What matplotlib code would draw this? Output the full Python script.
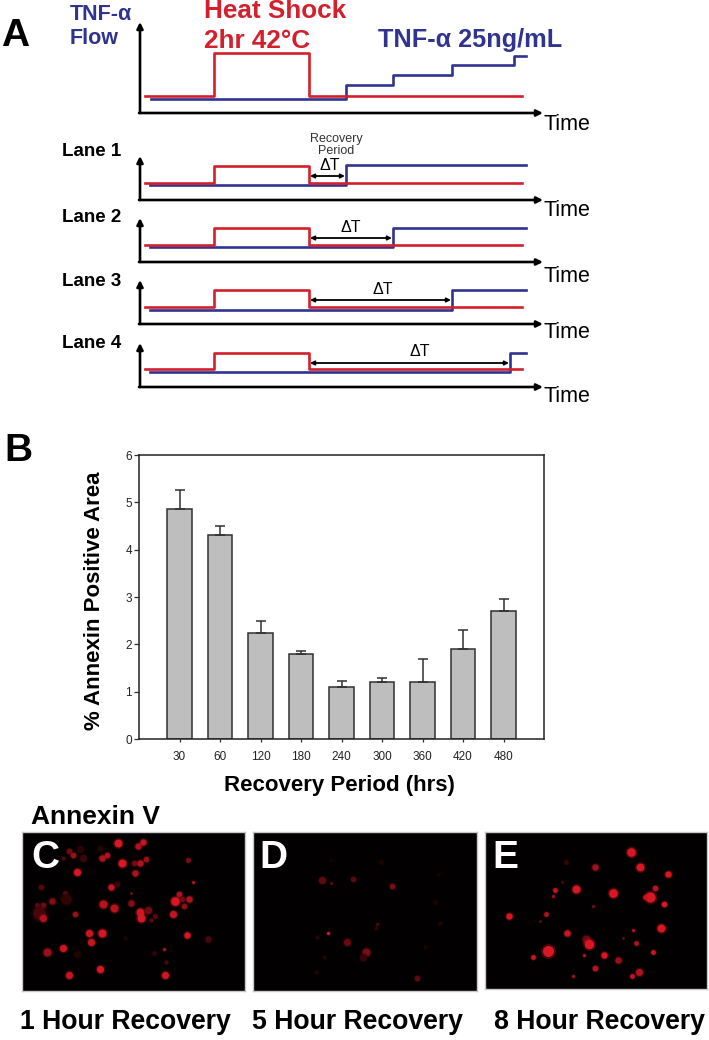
import matplotlib
matplotlib.use('Agg')
import matplotlib.pyplot as plt

plt.rcParams['font.family'] = ['Liberation Sans', 'DejaVu Sans']

W, H = 709, 1040
RED = '#d4202c'
BLUE = '#30338f'

# panel A, in picture pixels
red_x = [145, 214, 309, 522]
main_red = [96, 53, 96, 96]
main_blue_x = [151, 346, 393, 452, 514, 526]
main_blue = [99, 85, 75, 65, 56, 56]

lane_names = ['Lane 1', 'Lane 2', 'Lane 3', 'Lane 4']
lane_base = [200, 262, 324, 387]
lane_top = [156, 218, 280, 343]
lane_red_low = [183, 245, 307, 369]
lane_red_high = [166, 228, 290, 353]
lane_blue_low = [185, 247, 310, 372]
lane_blue_high = [165, 228, 290, 353]
lane_tnf_on = [346, 393, 452, 510]
lane_arrow_y = [176, 238, 300, 363]
lane_dt_x = [330, 351, 383, 420]
lane_dt_y = [165, 228, 290, 352]
lane_label_y = [152, 217, 282, 344]
time_y = [211, 276, 333, 397]

# panel B
periods = ['30', '60', '120', '180', '240', '300', '360', '420', '480']
annexin = [4.85, 4.3, 2.25, 1.8, 1.1, 1.2, 1.2, 1.9, 2.7]
annexin_err = [0.4, 0.2, 0.25, 0.05, 0.13, 0.08, 0.5, 0.4, 0.25]

# micrograph spots, x y radius brightness
spots_c = [(354, 53, 10, 1), (428, 50, 8, .9), (414, 62, 8, .8), (208, 78, 7, .5), (220, 90, 7, .7),
           (190, 98, 5, .35), (250, 97, 9, .25), (240, 72, 9, .15), (300, 68, 8, .12), (306, 97, 8, .8),
           (320, 90, 7, .8), (367, 113, 10, 1), (402, 114, 7, .5), (420, 114, 8, .8), (438, 100, 7, .7),
           (563, 105, 6, .6), (404, 143, 8, .8), (232, 141, 9, 1), (333, 185, 8, .9), (352, 175, 7, .25),
           (579, 170, 4, .8), (123, 184, 7, .35), (196, 203, 6, .4), (197, 222, 13, .2), (155, 227, 8, .6),
           (128, 240, 7, .5), (110, 240, 6, .4), (118, 265, 16, .3), (128, 278, 9, .8), (226, 268, 7, .7),
           (310, 235, 10, .85), (341, 249, 10, .85), (392, 232, 8, .6), (394, 204, 3, .6), (419, 261, 10, .95),
           (445, 255, 9, .5), (422, 279, 10, 1), (465, 272, 6, .4), (452, 284, 5, .4), (518, 266, 9, .9),
           (525, 227, 11, 1), (538, 206, 7, .8), (547, 221, 7, .5), (568, 220, 8, .8), (551, 242, 7, .65),
           (267, 323, 9, .95), (305, 325, 10, 1), (272, 350, 9, .9), (561, 331, 8, 1), (625, 343, 8, .3),
           (188, 370, 9, .95), (141, 382, 10, .7), (230, 388, 9, .12), (300, 431, 9, 1), (208, 451, 9, .9),
           (494, 450, 9, .95), (493, 373, 4, .8), (462, 385, 6, .2), (499, 412, 5, .3), (375, 340, 5, .12)]
spots_d = [(233, 164, 9, .42), (258, 173, 4, .38), (326, 162, 7, .38), (443, 182, 7, .55), (410, 111, 6, .1),
           (258, 104, 3, .14), (251, 324, 4, 1), (216, 335, 5, .18), (307, 350, 9, .45), (397, 298, 4, .34),
           (394, 310, 5, .18), (363, 381, 10, .55), (354, 396, 9, .22), (237, 397, 5, .14), (215, 441, 5, .14),
           (517, 459, 7, .42), (571, 230, 6, .1), (587, 294, 5, .14), (540, 366, 5, .08), (580, 146, 5, .07)]
spots_e = [(454, 81, 11, 1), (482, 124, 10, 1), (345, 126, 8, .75), (567, 146, 8, 1), (259, 111, 6, .2),
           (526, 187, 7, .85), (226, 193, 6, .9), (288, 190, 10, 1), (400, 204, 11, 1), (511, 215, 13, 1),
           (497, 214, 6, .9), (553, 235, 7, 1), (219, 211, 4, .7), (339, 242, 4, .5), (86, 272, 8, 1),
           (199, 268, 6, .8), (545, 309, 10, 1), (459, 314, 4, .8), (262, 325, 8, .95), (319, 342, 10, .45),
           (327, 358, 12, 1), (468, 355, 6, .8), (204, 377, 14, 1), (520, 381, 6, .95), (373, 390, 8, 1),
           (312, 391, 4, .8), (159, 397, 6, .95), (415, 406, 8, .7), (346, 430, 7, .85), (478, 441, 9, .8),
           (456, 452, 6, .9), (281, 452, 4, .75), (431, 340, 3, .5), (180, 287, 3, .5), (247, 171, 3, .4)]

panel_boxes = [(22, 832, 245, 991), (253, 832, 477, 991), (485, 832, 707, 989)]
panel_crops = [(66, 735, 498, 20), (25, 697, 498, 20), (15, 683, 492, 20)]
panel_spots = [spots_c, spots_d, spots_e]
panel_letters = ['C', 'D', 'E']
panel_letter_x = [31, 259, 492]
captions = ['1 Hour Recovery', '5 Hour Recovery', '8 Hour Recovery']
caption_x = [20, 252, 494]


def axes_px(fig, x0, y0, x1, y1):
    return fig.add_axes([x0 / W, 1 - y1 / H, (x1 - x0) / W, (y1 - y0) / H])


def arrow(ax, x0, y0, x1, y1, style='-|>', lw=1.9, scale=9):
    ax.annotate('', xy=(x1, y1), xytext=(x0, y0),
                arrowprops=dict(arrowstyle=style, color='black', lw=lw, mutation_scale=scale,
                                shrinkA=0, shrinkB=0))


def draw_axes_pair(ax, base, top):
    arrow(ax, 140, base, 140, top)
    arrow(ax, 139, base, 543, base)


fig = plt.figure(figsize=(W / 100, H / 100), dpi=100, facecolor='white')

bg = fig.add_axes([0, 0, 1, 1])
bg.set_xlim(0, W)
bg.set_ylim(H, 0)
bg.axis('off')

# main schematic
draw_axes_pair(bg, 113, 22)
bg.plot(red_x, main_red, drawstyle='steps-post', color=RED, lw=1.9, zorder=4)
bg.plot(main_blue_x, main_blue, drawstyle='steps-post', color=BLUE, lw=1.9, zorder=3)
bg.text(70, 14, 'TNF-α', color=BLUE, fontsize=15.5, fontweight='bold', va='center')
bg.text(70, 38, 'Flow', color=BLUE, fontsize=15.5, fontweight='bold', va='center')
bg.text(204, 11, 'Heat Shock', color=RED, fontsize=18.8, fontweight='bold', va='center')
bg.text(204, 41, '2hr 42°C', color=RED, fontsize=18.8, fontweight='bold', va='center')
bg.text(378, 40, 'TNF-α 25ng/mL', color=BLUE, fontsize=18.2, fontweight='bold', va='center')
bg.text(543, 124, 'Time', fontsize=15.5, va='center')
bg.text(1, 36, 'A', fontsize=28, fontweight='bold', va='center')

# lanes
for i in range(4):
    draw_axes_pair(bg, lane_base[i], lane_top[i])
    bg.plot(red_x, [lane_red_low[i], lane_red_high[i], lane_red_low[i], lane_red_low[i]],
            drawstyle='steps-post', color=RED, lw=1.9, zorder=4)
    bg.plot([150, lane_tnf_on[i], 526], [lane_blue_low[i], lane_blue_high[i], lane_blue_high[i]],
            drawstyle='steps-post', color=BLUE, lw=1.9, zorder=3)
    arrow(bg, 310, lane_arrow_y[i], lane_tnf_on[i] - 1, lane_arrow_y[i], style='<|-|>', lw=1.3, scale=6)
    bg.text(lane_dt_x[i], lane_dt_y[i], 'ΔT', fontsize=11.5, ha='center', va='center')
    bg.text(62, lane_label_y[i], lane_names[i], fontsize=13.5, fontweight='bold', va='center')
    bg.text(543, time_y[i], 'Time', fontsize=15.5, va='center')
bg.text(336, 145, 'Recovery\nPeriod', fontsize=9, ha='center', va='center', color='#333333', linespacing=1.0)

# panel B
bg.text(4, 451, 'B', fontsize=28, fontweight='bold', va='center')
ax = axes_px(fig, 139, 455, 544, 739)
positions = list(range(len(periods)))
ax.bar(positions, annexin, width=0.6, color='#bebebe', edgecolor='#303030', linewidth=1.1)
ax.errorbar(positions, annexin, yerr=[[0] * len(annexin), annexin_err], fmt='none', ecolor='#303030',
            elinewidth=1.1, capsize=3.4, capthick=1.1)
ax.set_xlim(-1, 9)
ax.set_ylim(0, 6)
ax.set_xticks(positions)
ax.set_xticklabels(periods, fontsize=8.5)
ax.tick_params(axis='x', length=2.5, width=0.9, pad=6, color='#303030', labelcolor='#222222')
ax.tick_params(axis='y', length=3.5, width=0.9, pad=1.5, labelsize=8.5, color='#303030', labelcolor='#222222')
for spine in ax.spines.values():
    spine.set_linewidth(1.1)
    spine.set_color('#222222')
bg.text(94, 601, '% Annexin Positive Area', rotation=90, fontsize=16, fontweight='bold', ha='center', va='center')
bg.text(339, 785, 'Recovery Period (hrs)', fontsize=16, fontweight='bold', ha='center', va='center')

# micrographs
bg.text(31, 817, 'Annexin V', fontsize=19, fontweight='bold', va='center')
for box, crop, spots, letter, lx, cap, cx in zip(panel_boxes, panel_crops, panel_spots, panel_letters,
                                                 panel_letter_x, captions, caption_x):
    pic = axes_px(fig, *box)
    pic.set_facecolor('#020000')
    pic.set_xlim(crop[0], crop[1])
    pic.set_ylim(crop[2], crop[3])
    pic.set_xticks([])
    pic.set_yticks([])
    for spine in pic.spines.values():
        spine.set_color('#c8c8c8')
        spine.set_linewidth(1.0)
    for x, y, r, b in spots:
        # radius is in zoomed crop units, a third of a picture pixel
        size = (r / 3 * 0.72) ** 2 * 4 * 1.4
        colour = (0.82 * b + 0.03, 0.09 * b, 0.14 * b)
        pic.scatter([x], [y], s=size * 1.9, color=colour, alpha=0.3, linewidths=0)
        pic.scatter([x], [y], s=size, color=colour, linewidths=0)
    pic.text((lx - box[0]) / (box[2] - box[0]), 1 - 26 / (box[3] - box[1]), letter, transform=pic.transAxes,
             color='white', fontsize=28, fontweight='bold', va='center')
    bg.text(cx, 1022, cap, fontsize=19.2, fontweight='bold', va='center')

fig.savefig('out.png', dpi=100)
